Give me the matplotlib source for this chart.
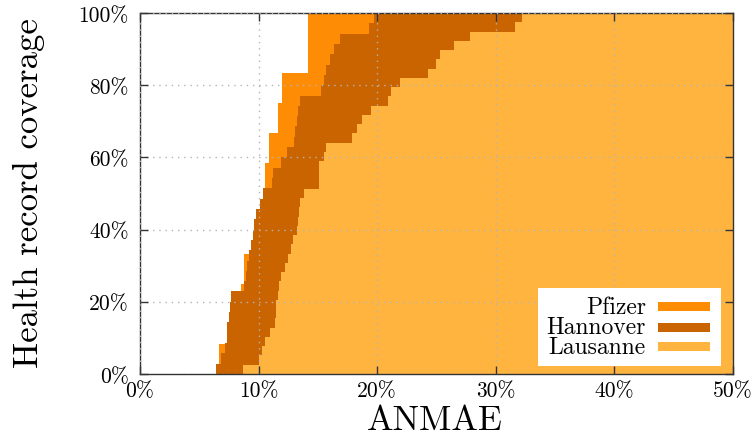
import numpy as np
import matplotlib
matplotlib.use('Agg')
import matplotlib.pyplot as plt
from matplotlib.patches import Rectangle

plt.rcParams['font.family'] = 'cmr10'
plt.rcParams['mathtext.fontset'] = 'cm'
plt.rcParams['axes.formatter.use_mathtext'] = True

# ── data: ANMAE (%) per health record ──
series = ['Pfizer', 'Hannover', 'Lausanne']
colors = ['#ff8c05', '#c96400', '#ffb43f']

pfizer_anmae = [6.7, 7.55, 8.5, 8.85, 9.8, 10.45, 10.55, 10.9, 11.65, 12.05,
                14.2, 14.25]
hannover_anmae = [6.4, 6.8, 7.2, 7.3, 7.35, 7.5, 7.6, 7.7, 8.85, 8.9,
                  9.0, 9.25, 9.45, 9.5, 9.6, 9.8, 10.1, 10.4, 11.1, 11.25,
                  11.95, 12.4, 13.05, 13.1, 13.2, 13.35, 13.5, 15.3, 15.5, 15.75,
                  16.0, 16.4, 16.9, 19.3, 19.7]
lausanne_anmae = [8.7, 10.0, 10.3, 10.5, 11.0, 11.4, 11.5, 11.55, 11.6, 11.7,
                  11.9, 12.2, 12.5, 12.7, 12.9, 13.2, 13.3, 13.4, 13.5, 13.8,
                  15.1, 15.1, 15.1, 15.5, 15.7, 17.9, 18.3, 18.7, 19.5, 20.9,
                  21.2, 21.9, 24.3, 25.0, 25.3, 26.5, 27.8, 31.65, 32.2]
anmae = [pfizer_anmae, hannover_anmae, lausanne_anmae]

x_ticks = [0, 10, 20, 30, 40, 50]
y_ticks = [0, 20, 40, 60, 80, 100]

fig = plt.figure(figsize=(7.53, 4.39), dpi=100)
ax = fig.add_axes([0.1859, 0.1458, 0.7875, 0.8223])

# thin boxes every 0.1% of ANMAE: share of records at or below that error
step = 0.1
xs = np.arange(0, 50, step)
for name, vals, c in zip(series, anmae, colors):
    v = np.sort(vals)
    cov = np.searchsorted(v, xs + step / 2, side='right') / len(v) * 100
    ax.bar(xs, cov, width=step, align='edge', color=c, linewidth=0, zorder=1)

ax.set_xlim(0, 50); ax.set_ylim(0, 100)
ax.set_xticks(x_ticks); ax.set_xticklabels([f'{t}%' for t in x_ticks])
ax.set_yticks(y_ticks); ax.set_yticklabels([f'{t}%' for t in y_ticks])
ax.tick_params(direction='in', length=5.5, width=1, color='#333333',
               top=True, right=True, labelsize=15.5)
ax.tick_params(axis='y', pad=8)
ax.tick_params(axis='x', pad=5)
ax.set_axisbelow(False)
ax.grid(True, color='#b4b4b4', lw=1, ls=(0, (1, 3.5)))
for s in ax.spines.values():
    s.set_color('#333333'); s.set_linewidth(1)

ax.set_xlabel('ANMAE', fontsize=25.5)
ax.xaxis.set_label_coords(0.498, -0.083)
ax.set_ylabel('Health record coverage', fontsize=25)
ax.yaxis.set_label_coords(-0.161, 0.505)

# legend (gnuplot style: right-aligned text, colour sample to the right)
ax.add_patch(Rectangle((0.671, 0.022), 0.309, 0.216, transform=ax.transAxes,
                       facecolor='white', edgecolor='none', zorder=5))
rows = [0.186, 0.130, 0.075]
for name, c, yy in zip(series, colors, rows):
    ax.text(0.853, yy, name, transform=ax.transAxes, ha='right', va='center',
            fontsize=17, zorder=6)
    ax.add_patch(Rectangle((0.873, yy - 0.0125), 0.088, 0.025,
                           transform=ax.transAxes, facecolor=c,
                           edgecolor='none', zorder=6))

fig.savefig('out.png', dpi=100)
